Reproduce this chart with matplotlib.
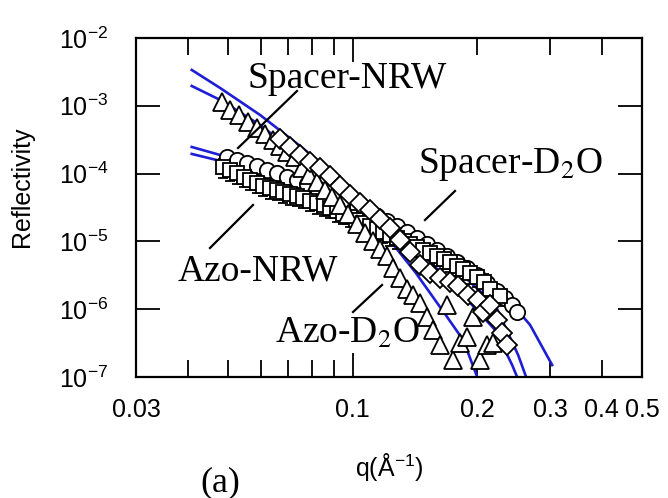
import matplotlib
matplotlib.use('Agg')
import matplotlib.pyplot as plt
from matplotlib.ticker import FixedLocator, FixedFormatter, NullLocator

plt.rcParams['font.family'] = 'Liberation Sans'
plt.rcParams['mathtext.fontset'] = 'custom'
plt.rcParams['mathtext.rm'] = 'Liberation Sans'
plt.rcParams['mathtext.it'] = 'Liberation Sans:italic'
plt.rcParams['mathtext.bf'] = 'Liberation Sans:bold'

# --- data (q in 1/A, reflectivity) ---
tri_q = [0.0484, 0.0506, 0.0532, 0.0560, 0.0588, 0.0615, 0.0643, 0.0668, 0.0695, 0.0726,
         0.0755, 0.0786, 0.0821, 0.0859, 0.0893, 0.0933, 0.0975, 0.1026, 0.1073, 0.1121,
         0.1166, 0.1212, 0.1253, 0.1303, 0.1355, 0.1400, 0.1456, 0.1514, 0.1565, 0.1627,
         0.1692, 0.1749, 0.1819, 0.1891, 0.1956, 0.2033, 0.2114, 0.2185]
tri_R = [1.14e-3, 8.7e-4, 7.3e-4, 5.8e-4, 4.7e-4, 3.8e-4, 3.1e-4, 2.55e-4, 2.08e-4, 1.76e-4,
         1.21e-4, 9.5e-5, 7.5e-5, 5.7e-5, 4.5e-5, 3.4e-5, 2.5e-5, 1.8e-5, 1.33e-5, 1.01e-5,
         7.7e-6, 6.1e-6, 4.1e-6, 2.9e-6, 2.0e-6, 1.62e-6, 1.24e-6, 7.7e-7, 4.9e-7, 3.0e-7,
         1.16e-6, 1.8e-7, 3.2e-7, 3.9e-7, 7.7e-7, 1.8e-7, 3.0e-7, 3.2e-7]

dia_q = [0.0668, 0.0706, 0.0747, 0.0790, 0.0835, 0.0883, 0.0933, 0.0986, 0.1043, 0.1102,
         0.1166, 0.1232, 0.1303, 0.1377, 0.1456, 0.1539, 0.1627, 0.1720, 0.1799, 0.1902,
         0.2011, 0.2067, 0.2149, 0.2234, 0.2297, 0.2362]
dia_R = [3.24e-4, 2.47e-4, 1.88e-4, 1.49e-4, 1.21e-4, 9.2e-5, 6.6e-5, 4.83e-5, 3.68e-5, 2.91e-5,
         2.14e-5, 1.57e-5, 1.05e-5, 6.98e-6, 4.49e-6, 3.42e-6, 2.89e-6, 2.52e-6, 2.20e-6, 1.62e-6,
         1.37e-6, 9.1e-7, 1.16e-6, 6.9e-7, 4.45e-7, 2.96e-7]

cir_q = [0.0498, 0.0526, 0.0556, 0.0588, 0.0622, 0.0657, 0.0695, 0.0735, 0.0777, 0.0821,
         0.0868, 0.0917, 0.0970, 0.1026, 0.1084, 0.1147, 0.1212, 0.1281, 0.1355, 0.1432,
         0.1514, 0.1600, 0.1692, 0.1789, 0.1891, 0.1999, 0.2114, 0.2234, 0.2336, 0.2429, 0.2497]
cir_R = [1.76e-4, 1.59e-4, 1.44e-4, 1.30e-4, 1.13e-4, 1.02e-4, 8.9e-5, 8.05e-5, 7.03e-5, 6.14e-5,
         5.35e-5, 4.67e-5, 3.94e-5, 3.33e-5, 2.81e-5, 2.37e-5, 2.00e-5, 1.69e-5, 1.37e-5, 1.12e-5,
         9.2e-6, 7.47e-6, 6.09e-6, 4.97e-6, 4.06e-6, 3.20e-6, 2.44e-6, 1.86e-6, 1.47e-6, 1.16e-6, 9.1e-7]

sq_q = [0.0487, 0.0506, 0.0526, 0.0546, 0.0566, 0.0587, 0.0608, 0.0632, 0.0657, 0.0681,
        0.0706, 0.0733, 0.0760, 0.0790, 0.0821, 0.0852, 0.0883, 0.0916, 0.0949, 0.0984,
        0.1019, 0.1060, 0.1102, 0.1143, 0.1186, 0.1232, 0.1281, 0.1328, 0.1377, 0.1430,
        0.1481, 0.1540, 0.1600, 0.1660, 0.1720, 0.1785, 0.1850, 0.1925, 0.1999, 0.2075,
        0.2149, 0.2272]
sq_R = [1.25e-4, 1.12e-4, 1.02e-4, 9.0e-5, 8.05e-5, 7.3e-5, 6.57e-5, 6.1e-5, 5.73e-5, 5.35e-5,
        5.0e-5, 4.7e-5, 4.37e-5, 4.0e-5, 3.68e-5, 3.4e-5, 3.11e-5, 2.8e-5, 2.54e-5, 2.3e-5,
        2.07e-5, 1.87e-5, 1.69e-5, 1.52e-5, 1.37e-5, 1.24e-5, 1.12e-5, 1.01e-5, 9.2e-6, 8.3e-6,
        7.47e-6, 6.7e-6, 6.09e-6, 5.5e-6, 4.97e-6, 4.4e-6, 3.92e-6, 3.4e-6, 2.99e-6, 2.5e-6,
        1.99e-6, 1.57e-6]
sq_rel_err = 0.3

# fitted curves (blue)
fitA_q = [0.0409, 0.0479, 0.0598, 0.0747, 0.0933, 0.1166, 0.1456, 0.1819, 0.2210, 0.2429, 0.2497]
fitA_R = [3.38e-3, 1.83e-3, 7.32e-4, 2.55e-4, 8.33e-5, 2.63e-5, 6.98e-6, 1.79e-6, 4.93e-7, 1.5e-7, 1.0e-7]
fitB_q = [0.0409, 0.0479, 0.0598, 0.0747, 0.0933, 0.1166, 0.1416, 0.1692, 0.1850, 0.2000]
fitB_R = [1.96e-3, 1.22e-3, 5.21e-4, 1.82e-4, 5.73e-5, 1.57e-5, 3.54e-6, 7.67e-7, 3.51e-7, 1.0e-7]
fitC_q = [0.0409, 0.0479, 0.0598, 0.0747, 0.0933, 0.1166, 0.1456, 0.1819, 0.2272, 0.2684, 0.3034]
fitC_R = [2.47e-4, 1.88e-4, 1.21e-4, 7.52e-5, 4.37e-5, 2.29e-5, 1.12e-5, 5.14e-6, 1.92e-6, 5.85e-7, 1.5e-7]
fitD_q = [0.0409, 0.0479, 0.0598, 0.0747, 0.0933, 0.1166, 0.1456, 0.1819, 0.2210, 0.2511, 0.2625]
fitD_R = [1.95e-4, 1.54e-4, 8.05e-5, 4.67e-5, 2.72e-5, 1.47e-5, 7.47e-6, 3.42e-6, 1.16e-6, 2.11e-7, 1.0e-7]

x_label_vals = [0.03, 0.2, 0.3, 0.4, 0.5]
y_ticks = [1e-7, 1e-6, 1e-5, 1e-4, 1e-3, 1e-2]
y_tick_labels = [r'$\mathregular{10^{-7}}$', r'$\mathregular{10^{-6}}$', r'$\mathregular{10^{-5}}$',
                 r'$\mathregular{10^{-4}}$', r'$\mathregular{10^{-3}}$', r'$\mathregular{10^{-2}}$']

fig = plt.figure(figsize=(6.68, 4.98), dpi=100)
ax = fig.add_axes([0.2036, 0.2430, 0.7575, 0.6807])
ax.set_xscale('log')
ax.set_yscale('log')
ax.set_xlim(0.03, 0.5)
ax.set_ylim(1e-7, 1e-2)

# fits first, so the open markers sit on top of them
blue = '#1e1ed6'
for fq, fr in [(fitA_q, fitA_R), (fitB_q, fitB_R), (fitC_q, fitC_R), (fitD_q, fitD_R)]:
    ax.plot(fq, fr, color=blue, lw=1.9, zorder=2)

mk = dict(mfc='white', mec='black', mew=1.3, ls='none')
sq_err = [[r * sq_rel_err for r in sq_R], [r * sq_rel_err for r in sq_R]]
ax.errorbar(sq_q, sq_R, yerr=sq_err, fmt='s', ms=10, ecolor='black', elinewidth=1.3,
            capsize=3.5, capthick=1.3, zorder=3, **mk)
ax.plot(cir_q, cir_R, marker='o', ms=11, zorder=3, **mk)
ax.plot(tri_q, tri_R, marker='^', ms=13, zorder=4, **mk)
ax.plot(dia_q, dia_R, marker='D', ms=10, zorder=5, **mk)

# ticks
ax.xaxis.set_major_locator(FixedLocator([0.1]))
ax.xaxis.set_major_formatter(FixedFormatter(['0.1']))
minor_x = [0.03, 0.04, 0.05, 0.06, 0.07, 0.08, 0.09, 0.2, 0.3, 0.4, 0.5]
ax.xaxis.set_minor_locator(FixedLocator(minor_x))
ax.xaxis.set_minor_formatter(FixedFormatter(
    [str(v) if v in x_label_vals else '' for v in minor_x]))
ax.yaxis.set_major_locator(FixedLocator(y_ticks))
ax.yaxis.set_major_formatter(FixedFormatter(y_tick_labels))
ax.yaxis.set_minor_locator(NullLocator())

ax.tick_params(which='both', direction='in', top=True, right=True, width=1.3, labelsize=18)
ax.tick_params(which='major', length=17)
ax.tick_params(which='minor', length=12)
ax.tick_params(axis='x', which='both', pad=15)
ax.tick_params(axis='y', which='both', pad=20)
for s in ax.spines.values():
    s.set_linewidth(1.6)

ax.set_xlabel(r'q($\mathregular{\AA^{-1}}$)', fontsize=18)
ax.xaxis.set_label_coords(0.5, -0.265)
ax.xaxis.label.set_va('center')
ax.set_ylabel('Reflectivity', fontsize=18)
ax.yaxis.set_label_coords(-0.225, 0.56)
ax.yaxis.label.set_va('center')

# annotations with leader lines (axes fraction)
serif = dict(family='Liberation Serif', fontsize=27, math_fontfamily='stix',
             transform=ax.transAxes, va='baseline', ha='left')
ax.text(0.2194, 0.8525, 'Spacer-NRW', **serif)
ax.text(0.5573, 0.6018, 'Spacer-D$_2$O', **serif)
ax.text(0.0830, 0.2861, 'Azo-NRW', **serif)
ax.text(0.2747, 0.1003, 'Azo-D$_2$O', **serif)
leaders = [((0.3182, 0.8437), (0.2016, 0.6755)),
           ((0.6304, 0.5487), (0.5711, 0.4631)),
           ((0.1462, 0.3805), (0.2312, 0.5074)),
           ((0.4289, 0.1917), (0.4862, 0.2714))]
for (x0, y0), (x1, y1) in leaders:
    ax.plot([x0, x1], [y0, y1], color='black', lw=1.6, transform=ax.transAxes, zorder=7)

fig.text(220 / 668, 1 - 483 / 498, '(a)', family='Liberation Serif', fontsize=26,
         ha='center', va='center')

fig.savefig('out.png', dpi=100)
